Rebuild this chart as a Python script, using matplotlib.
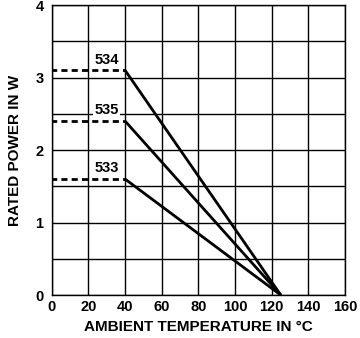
import matplotlib
matplotlib.use("Agg")
import matplotlib.pyplot as plt
import numpy as np

plt.rcParams['font.family'] = ['Liberation Sans', 'DejaVu Sans']

series = ["534", "535", "533"]
rated_power = [3.1, 2.4, 1.6]
knee_temp = 40
start_temp = 0
zero_temp = 125

x_ticks = [0, 20, 40, 60, 80, 100, 120, 140, 160]
y_ticks = [0, 1, 2, 3, 4]

fig = plt.figure(figsize=(3.6, 3.38), dpi=100)
ax = fig.add_axes([0.144, 0.127, 0.814, 0.858])

ax.set_xlim(0, 160)
ax.set_ylim(0, 4)
ax.set_xticks(x_ticks)
ax.set_yticks(y_ticks)
ax.set_yticks(np.arange(0, 4.01, 0.5), minor=True)
ax.grid(True, which='major', color='black', linewidth=1.0)
ax.grid(True, which='minor', axis='y', color='black', linewidth=1.0)
ax.tick_params(which='both', length=0)
ax.tick_params(axis='x', pad=3.5)
ax.tick_params(axis='y', pad=6)
for lbl in ax.get_xticklabels() + ax.get_yticklabels():
    lbl.set_fontweight('bold')
    lbl.set_fontsize(10.5)
for s in ax.spines.values():
    s.set_linewidth(1.0)

for name, p in zip(series, rated_power):
    ax.plot([start_temp, knee_temp], [p, p], color='black', linewidth=2.0,
            linestyle=(0.5, (2.2, 1.5)), solid_capstyle='butt', dash_capstyle='butt')
    ax.plot([knee_temp, zero_temp], [p, 0], color='black', linewidth=2.0,
            solid_capstyle='butt')
    ax.text(30, p + 0.05, name, ha='center', va='bottom', fontsize=10.5,
            fontweight='bold',
            bbox=dict(facecolor='white', edgecolor='none', pad=1.0))

ax.set_xlabel("AMBIENT TEMPERATURE IN °C", fontsize=11, fontweight='bold',
              va='center')
ax.xaxis.set_label_coords(0.5, -0.110)
ax.set_ylabel("RATED POWER IN W", fontsize=11, fontweight='bold', va='center')
ax.yaxis.set_label_coords(-0.126, 0.5)

fig.savefig("out.png", dpi=100)
